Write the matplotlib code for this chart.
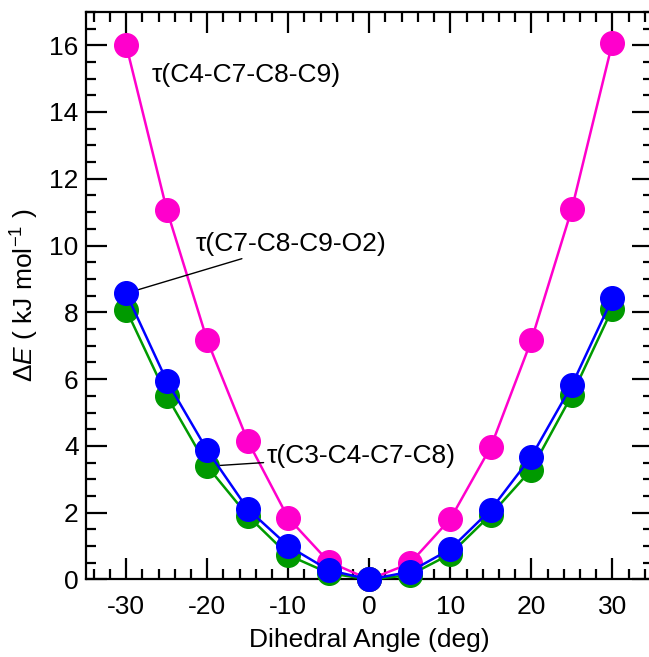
import matplotlib
matplotlib.use("Agg")
import matplotlib.pyplot as plt
from matplotlib.ticker import MultipleLocator

plt.rcParams['font.family'] = ['Liberation Sans', 'DejaVu Sans']
plt.rcParams['axes.unicode_minus'] = False
plt.rcParams['mathtext.fontset'] = 'custom'
plt.rcParams['mathtext.rm'] = 'Liberation Sans'
plt.rcParams['mathtext.it'] = 'Liberation Sans:italic'

# datos
angulos = [-30, -25, -20, -15, -10, -5, 0, 5, 10, 15, 20, 25, 30]
e_c4_c7_c8_c9 = [16.0, 11.08, 7.16, 4.15, 1.84, 0.53, 0.0, 0.48, 1.81, 3.97, 7.16, 11.1, 16.07]
e_c3_c4_c7_c8 = [8.08, 5.5, 3.39, 1.91, 0.73, 0.19, 0.0, 0.13, 0.76, 1.94, 3.29, 5.52, 8.11]
e_c7_c8_c9_o2 = [8.57, 5.95, 3.87, 2.11, 1.0, 0.28, 0.0, 0.23, 0.91, 2.09, 3.68, 5.82, 8.42]

magenta = '#ff00cc'
verde = '#009a00'
azul = '#0000ff'

fig = plt.figure(figsize=(6.49, 6.57), dpi=100)
ax = fig.add_axes([0.132, 0.118, 0.874, 0.864])

ax.plot(angulos, e_c4_c7_c8_c9, '-o', color=magenta, lw=1.8, ms=17, clip_on=False, zorder=3)
ax.plot(angulos, e_c3_c4_c7_c8, '-o', color=verde, lw=1.8, ms=17, clip_on=False, zorder=4)
ax.plot(angulos, e_c7_c8_c9_o2, '-o', color=azul, lw=1.8, ms=17, clip_on=False, zorder=5)

ax.set_xlim(-35, 35)
ax.set_ylim(0, 17)

ax.xaxis.set_major_locator(MultipleLocator(10))
ax.xaxis.set_minor_locator(MultipleLocator(2))
ax.yaxis.set_major_locator(MultipleLocator(2))
ax.yaxis.set_minor_locator(MultipleLocator(0.5))
ax.tick_params(which='both', direction='in', top=True, right=True, width=1.6, labelsize=19)
ax.tick_params(which='major', length=15)
ax.tick_params(which='minor', length=7.5)
ax.tick_params(axis='x', pad=11)
ax.tick_params(axis='y', pad=5)
for s in ax.spines.values():
    s.set_linewidth(1.6)

ax.set_xlabel('Dihedral Angle (deg)', fontsize=19, labelpad=7)
ax.set_ylabel('Δ$\\mathit{E}$ ( kJ mol$^{-1}$ )', fontsize=19, labelpad=6)

ax.text(-26.9, 15.1, 'τ(C4-C7-C8-C9)', fontsize=19, va='center', ha='left')
ax.annotate('τ(C7-C8-C9-O2)', xy=(-30, 8.57), xytext=(-21.4, 10.05),
            fontsize=19, va='center', ha='left',
            arrowprops=dict(arrowstyle='-', color='black', lw=1.0, shrinkA=0, shrinkB=0))
ax.annotate('τ(C3-C4-C7-C8)', xy=(-20, 3.39), xytext=(-12.7, 3.69),
            fontsize=19, va='center', ha='left',
            arrowprops=dict(arrowstyle='-', color='black', lw=1.0, shrinkA=0, shrinkB=0))

fig.savefig('out.png', dpi=100)
